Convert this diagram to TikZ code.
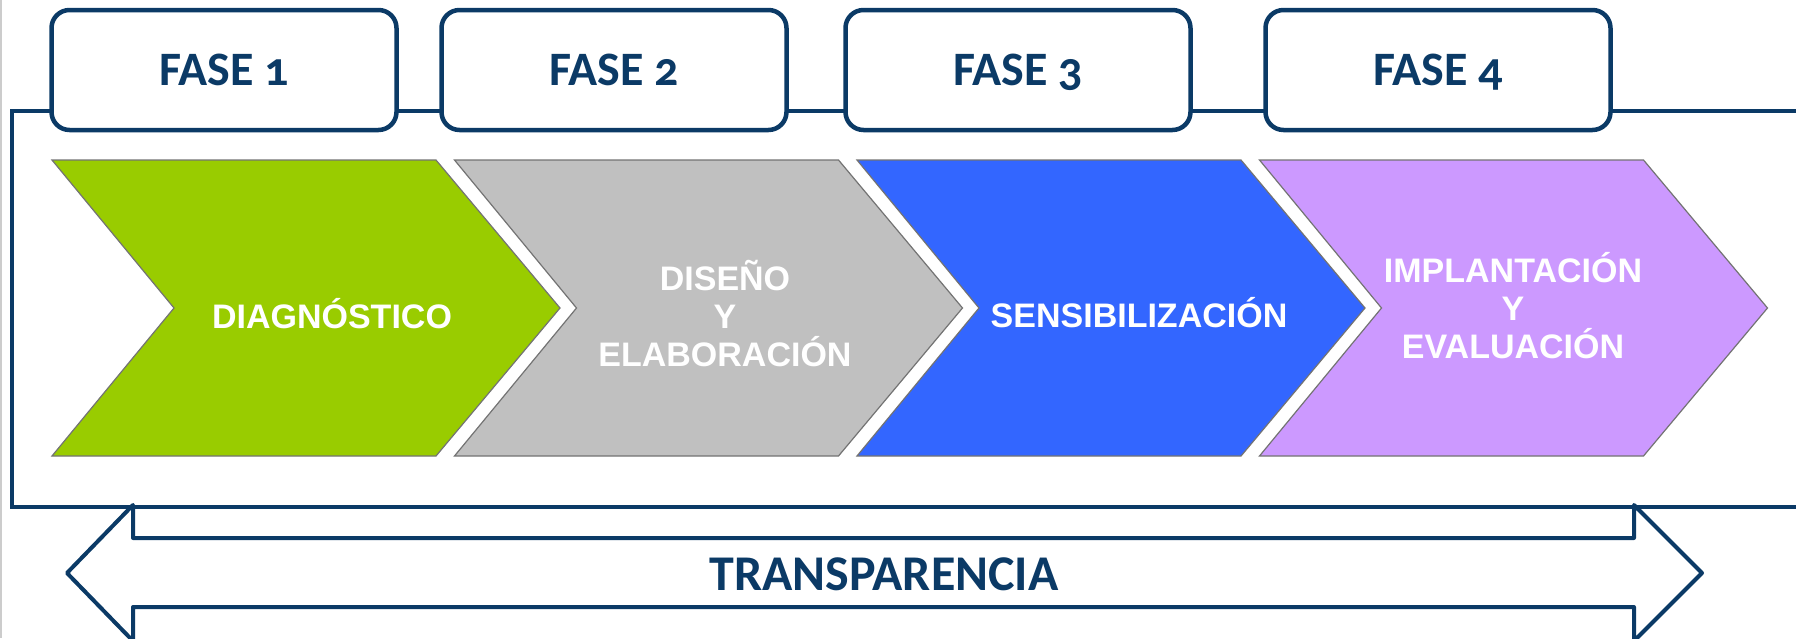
\documentclass[tikz,border=0pt]{standalone}
\usepackage{fontspec}
\setmainfont{Carlito}[Numbers=OldStyle]
\newfontfamily\chevronfont{Liberation Sans}
\usetikzlibrary{positioning}
\definecolor{navy}{RGB}{11,58,102}
\definecolor{chgreen}{RGB}{153,204,0}
\definecolor{chgray}{RGB}{192,192,192}
\definecolor{chblue}{RGB}{51,102,255}
\definecolor{chpurple}{RGB}{204,153,255}

\begin{document}
\begin{tikzpicture}[x=0.5pt, y=-0.5pt,
    fasenode/.style={draw=navy, line width=2.25pt, fill=white, rounded corners=9pt, minimum width=172.5pt, minimum height=60pt, outer sep=0pt, text=navy, text height=15.5pt, text depth=0pt, font=\bfseries\fontsize{24}{28}\selectfont},
    chevron/.style={draw=black!55, line width=0.6pt},
    chevtext/.style={text=white, align=center, font=\chevronfont\bfseries\fontsize{17}{19}\selectfont}]
            \useasboundingbox (0,0) rectangle (1796,638);
            \draw[black!20, line width=1pt] (1,0) -- (1,638);
            %Frame
            \draw[navy, line width=2pt] (1810,111) -- (12,111) -- (12,507) -- (1810,507);
            %Chevrons
            \foreach \x/\c in {52/chgreen, 454.5/chgray, 857/chblue, 1259.5/chpurple}
                \filldraw[chevron, fill=\c] (\x,160) -- ++(384,0) -- ++(124,148) -- ++(-124,148) -- ++(-384,0) -- ++(122,-148) -- cycle;
            \node[chevtext] (diagnostico)     at (332,314)  {DIAGNÓSTICO};
            \node[chevtext] (diseno)          at (725,314)  {DISEÑO\\Y\\ELABORACIÓN};
            \node[chevtext] (sensibilizacion) at (1139,313) {SENSIBILIZACIÓN};
            \node[chevtext] (implantacion)    at (1513,306) {IMPLANTACIÓN\\Y\\EVALUACIÓN};
            %Nodes
            \node[fasenode]   (fase1)  at (224,70)            {FASE 1};
            \node[fasenode]   (fase2)  [right=22.5pt of fase1] {FASE 2};
            \node[fasenode]   (fase3)  [right=29.5pt of fase2] {FASE 3};
            \node[fasenode]   (fase4)  [right=37.5pt of fase3] {FASE 4};
            %Arrow
            \draw[navy, line width=2pt, line join=round] (67,573) -- (133,505) -- (133,538) -- (1634,538) -- (1634,505) -- (1702,573) -- (1634,641) -- (1634,607) -- (133,607) -- (133,641) -- cycle;
            \node[text=navy, font=\bfseries\fontsize{25}{29}\selectfont] (transparencia) at (884,574) {TRANSPARENCIA};
        \end{tikzpicture}
\end{document}
